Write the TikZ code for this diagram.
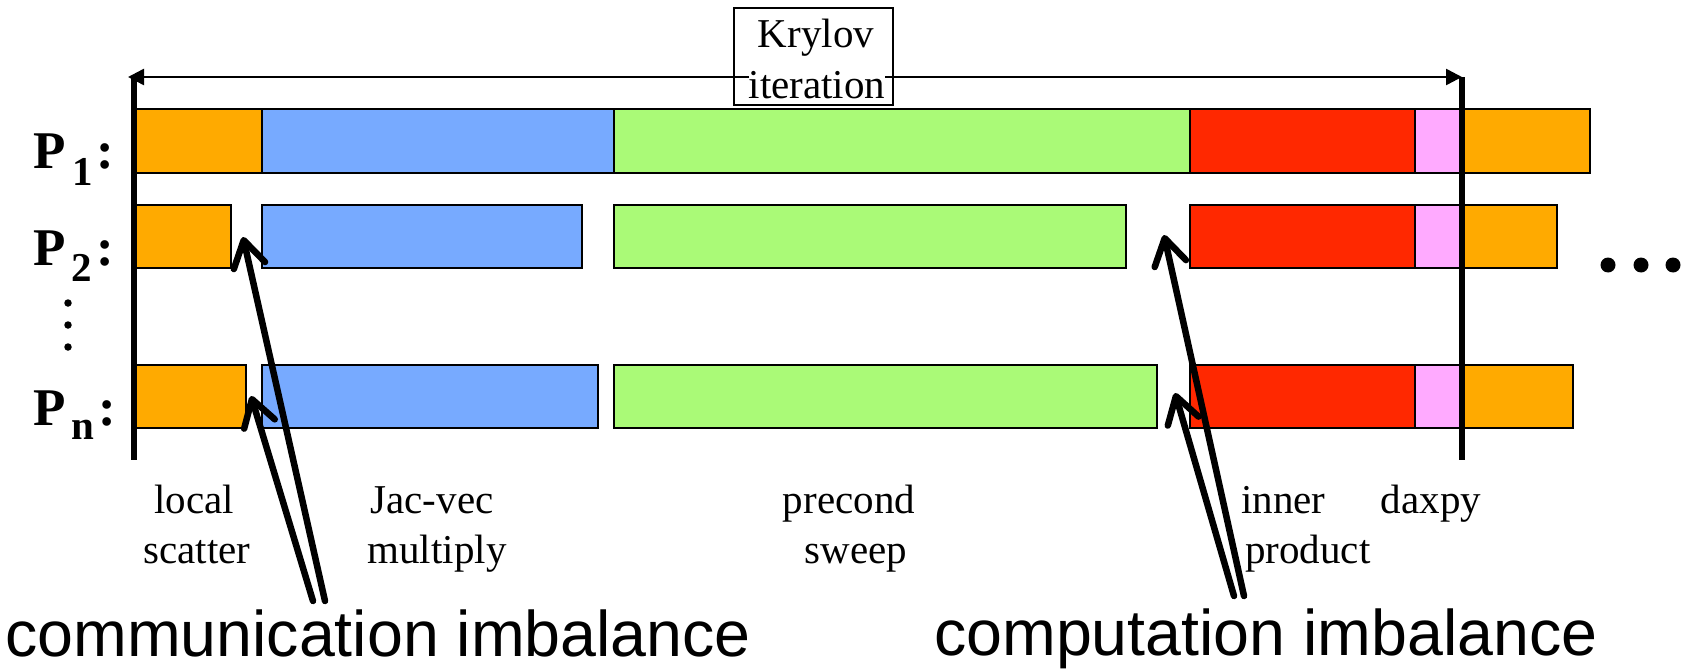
\documentclass[tikz,border=0pt]{standalone}
\usepackage{fontspec}
\setmainfont{Liberation Serif}
\newfontfamily\sansf{Liberation Sans}
\usetikzlibrary{arrows.meta}
\definecolor{orng}{RGB}{255,170,0}
\definecolor{blu}{RGB}{119,170,255}
\definecolor{grn}{RGB}{170,250,119}
\definecolor{rd}{RGB}{255,40,0}
\definecolor{pnk}{RGB}{255,170,255}
\begin{document}
\begin{tikzpicture}[x=1pt,y=-1pt,
  seg/.style={draw=black,line width=2.8pt},
  axisln/.style={line width=6.5pt},
  lab/.style={font=\fontsize{41}{51}\selectfont,inner sep=0pt,anchor=base},
  big/.style={font=\sansf\fontsize{64.5}{70}\selectfont,inner sep=0pt,anchor=base west},
  plab/.style={font=\bfseries\fontsize{53}{53}\selectfont,inner sep=0pt,anchor=base west},
  psub/.style={font=\bfseries\fontsize{41}{41}\selectfont,inner sep=0pt,anchor=base west},
  imb/.style={line width=6.5pt,line cap=round,-{Straight Barb[length=26pt,width=32pt,round]}},
  krarrow/.style={line width=2.5pt,{Triangle[length=16pt,width=16pt]}-{Triangle[length=16pt,width=16pt]}},
  smalldot/.style={circle,fill=black,inner sep=0pt,minimum size=7.5pt},
  bigdot/.style={circle,fill=black,inner sep=0pt,minimum size=15pt}]
\useasboundingbox (0,0) rectangle (1686,669);

% Krylov box
\node[draw,line width=2pt,fill=white,minimum width=159pt,minimum height=97pt,inner sep=0pt] (kbox) at (813.5,56.5) {};
\node[lab] (kry1) at (816,48) {Krylov};

% bars P1
\draw[seg,fill=orng] (134,109) rectangle (262,173);
\draw[seg,fill=blu]  (262,109) rectangle (614,173);
\draw[seg,fill=grn]  (614,109) rectangle (1190,173);
\draw[seg,fill=rd]   (1190,109) rectangle (1415,173);
\draw[seg,fill=pnk]  (1415,109) rectangle (1460,173);
\draw[seg,fill=orng] (1460,109) rectangle (1590,173);
% bars P2
\draw[seg,fill=orng] (134,205) rectangle (231,268);
\draw[seg,fill=blu]  (262,205) rectangle (582,268);
\draw[seg,fill=grn]  (614,205) rectangle (1126,268);
\draw[seg,fill=rd]   (1190,205) rectangle (1415,268);
\draw[seg,fill=pnk]  (1415,205) rectangle (1460,268);
\draw[seg,fill=orng] (1460,205) rectangle (1557,268);
% bars Pn
\draw[seg,fill=orng] (134,365) rectangle (246,428);
\draw[seg,fill=blu]  (262,365) rectangle (598,428);
\draw[seg,fill=grn]  (614,365) rectangle (1157,428);
\draw[seg,fill=rd]   (1190,365) rectangle (1415,428);
\draw[seg,fill=pnk]  (1415,365) rectangle (1460,428);
\draw[seg,fill=orng] (1460,365) rectangle (1573,428);

% axes and iteration arrow
\coordinate (lt) at (134,77);
\coordinate (lb) at (134,460);
\coordinate (rt) at (1462,77);
\coordinate (rb) at (1462,460);
\coordinate (ka) at (128,77);
\coordinate (kb) at (1462,77);
\draw[krarrow] (ka) -- (kb);
\node[lab,fill=white,inner xsep=0pt] (kry2) at (817,99) {iteration};
\draw[axisln] (lt) -- (lb);
\draw[axisln] (rt) -- (rb);

% processor labels
\node[plab] (p1) at (33,168) {P};
\node[psub] (p1s) at (72,185) {1};
\node[plab] (p1c) at (96,168) {:};
\node[plab] (p2) at (33,265) {P};
\node[psub] (p2s) at (71,281) {2};
\node[plab] (p2c) at (96,265) {:};
\node[plab] (pn) at (33,425) {P};
\node[psub] (pns) at (71,439) {n};
\node[plab] (pnc) at (98,425) {:};
\node[smalldot] (vd1) at (68,303) {};
\node[smalldot] (vd2) at (68,325) {};
\node[smalldot] (vd3) at (68,347) {};
\node[bigdot] (hd1) at (1608,265) {};
\node[bigdot] (hd2) at (1641,265) {};
\node[bigdot] (hd3) at (1673,265) {};

% phase labels
\node[lab] (ls1) at (194,513) {local};
\node[lab] (ls2) at (197,563) {scatter};
\node[lab] (jv1) at (432,513) {Jac-vec};
\node[lab] (jv2) at (437,563) {multiply};
\node[lab] (pc1) at (849,513) {precond};
\node[lab] (pc2) at (856,563) {sweep};
\node[lab,anchor=base west] (ip1) at (1241,513) {inner};
\node[lab,anchor=base west] (ip2) at (1245,563) {product};
\node[lab] (dx) at (1431,513) {daxpy};

% imbalance labels
\node[big] (comm) at (5,656) {communication imbalance};
\node[big] (comp) at (934,655) {computation imbalance};

% imbalance arrows
\coordinate (ct1) at (325,601);
\coordinate (ch1) at (243,237);
\coordinate (ct2) at (313,601);
\coordinate (ch2) at (251,396);
\coordinate (pt1) at (1244,596);
\coordinate (ph1) at (1164,235);
\coordinate (pt2) at (1234,596);
\coordinate (ph2) at (1175,393);
\draw[imb] (ct1) -- (ch1);
\draw[imb] (ct2) -- (ch2);
\draw[imb] (pt1) -- (ph1);
\draw[imb] (pt2) -- (ph2);
\end{tikzpicture}
\end{document}
